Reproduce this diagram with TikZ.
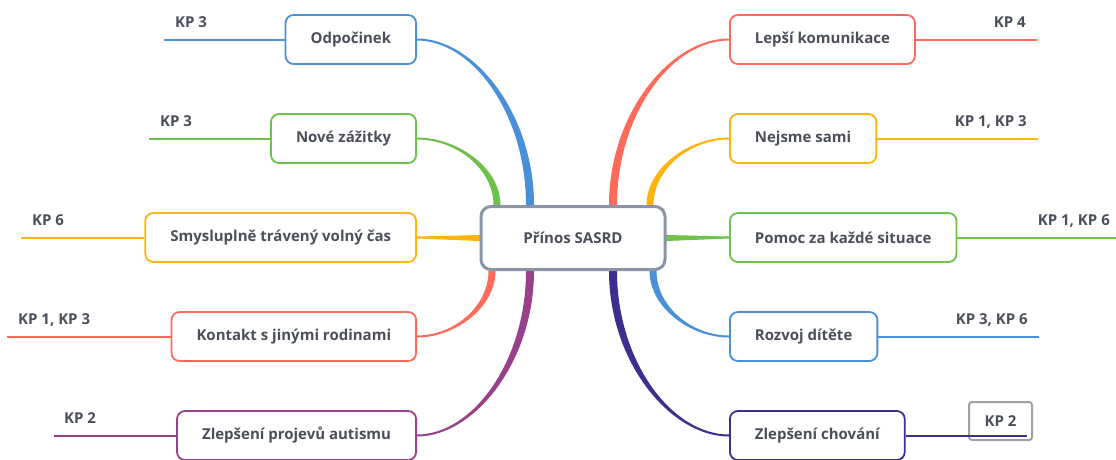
\documentclass[tikz,border=0pt]{standalone}
\usepackage{fontspec}
\setmainfont{Open Sans}
\usetikzlibrary{calc,backgrounds}

\definecolor{cblue}{RGB}{74,144,217}
\definecolor{cgreen}{RGB}{108,194,74}
\definecolor{corange}{RGB}{255,179,15}
\definecolor{ccoral}{RGB}{255,107,91}
\definecolor{cpurple}{RGB}{152,65,138}
\definecolor{cindigo}{RGB}{63,46,143}
\definecolor{chub}{RGB}{138,148,166}
\definecolor{cbox}{RGB}{160,160,160}
\definecolor{ctext}{RGB}{74,79,90}

\tikzset{
  hub/.style={draw=chub, fill=white, line width=3pt, rounded corners=10pt,
    minimum width=184pt, minimum height=63pt,
    font=\bfseries\fontsize{15}{17}\selectfont, text=ctext},
  idea/.style={draw=#1, fill=white, line width=1.8pt, rounded corners=8pt,
    minimum height=49pt, inner xsep=25pt,
    font=\bfseries\fontsize{15}{17}\selectfont, text=ctext},
  kp/.style={inner sep=0pt, font=\bfseries\fontsize{15}{17}\selectfont, text=ctext},
  tail/.style={draw=#1, line width=2pt},
}

% zuzena vetev od stredu k uzlu: barva, kotva, posun, cil, polosirka
\newcommand{\branch}[5]{%
  \filldraw[#1, line width=2pt, line join=round]
    let \p1=([xshift=#3pt]#2), \p2=(#4) in
    (\x1-#5pt,\y1) .. controls (\x1-#5pt,{\y1+0.55*(\y2-\y1)}) and ({0.5*\x1+0.5*\x2},\y2) .. (\x2,\y2)
    .. controls ({0.5*\x1+0.5*\x2},\y2) and (\x1+#5pt,{\y1+0.55*(\y2-\y1)}) .. (\x1+#5pt,\y1) -- cycle;}

\begin{document}
\begin{tikzpicture}[x=1pt, y=-1pt]
  % rozmery obrazku
  \useasboundingbox (0,0) rectangle (1116,459);

  % stredni uzel
  \node[hub] (hub) at (573,238) {Přínos SASRD};

  % leve uzly
  \node[idea=cblue, anchor=east] (odpocinek) at (417,39.5) {Odpočinek};
  \node[idea=cgreen, anchor=east] (zazitky) at (417,138.5) {Nové zážitky};
  \node[idea=corange, anchor=east] (volnycas) at (417,237.5) {Smysluplně trávený volný čas};
  \node[idea=ccoral, anchor=east] (kontakt) at (417,336.5) {Kontakt s jinými rodinami};
  \node[idea=cpurple, anchor=east] (projevy) at (417,435.5) {Zlepšení projevů autismu};

  % prave uzly
  \node[idea=ccoral, anchor=west] (komunikace) at (729,39.5) {Lepší komunikace};
  \node[idea=corange, anchor=west] (sami) at (729,138.5) {Nejsme sami};
  \node[idea=cgreen, anchor=west] (pomoc) at (729,237.5) {Pomoc za každé situace};
  \node[idea=cblue, anchor=west] (rozvoj) at (729,336.5) {Rozvoj dítěte};
  \node[idea=cindigo, anchor=west] (chovani) at (729,435.5) {Zlepšení chování};

  % konce car
  \coordinate (odpocinek-end) at (164,39.5);
  \coordinate (zazitky-end) at (149,138.5);
  \coordinate (volnycas-end) at (21,237.5);
  \coordinate (kontakt-end) at (7,336.5);
  \coordinate (projevy-end) at (54,435.5);
  \coordinate (komunikace-end) at (1037,39.5);
  \coordinate (sami-end) at (1038,138.5);
  \coordinate (pomoc-end) at (1116,237.5);
  \coordinate (rozvoj-end) at (1039,336.5);
  \coordinate (chovani-end) at (1027,435.5);

  % popisky KP
  \node[kp, anchor=base west] (kp-odpocinek) at ([shift={(11,-12)}]odpocinek-end) {KP 3};
  \node[kp, anchor=base west] (kp-zazitky) at ([shift={(11,-12)}]zazitky-end) {KP 3};
  \node[kp, anchor=base west] (kp-volnycas) at ([shift={(11,-12)}]volnycas-end) {KP 6};
  \node[kp, anchor=base west] (kp-kontakt) at ([shift={(11,-12)}]kontakt-end) {KP 1, KP 3};
  \node[kp, anchor=base west] (kp-projevy) at ([shift={(10,-12)}]projevy-end) {KP 2};
  \node[kp, anchor=base east] (kp-komunikace) at ([shift={(-11,-12)}]komunikace-end) {KP 4};
  \node[kp, anchor=base east] (kp-sami) at ([shift={(-11,-12)}]sami-end) {KP 1, KP 3};
  \node[kp, anchor=base east] (kp-pomoc) at ([shift={(-6,-12)}]pomoc-end) {KP 1, KP 6};
  \node[kp, anchor=base east] (kp-rozvoj) at ([shift={(-11,-12)}]rozvoj-end) {KP 3, KP 6};
  \node[kp, draw=cbox, line width=2pt, rounded corners=3pt, minimum width=63pt,
    minimum height=38pt] (kp-chovani) at ([shift={(-26.5,-14.5)}]chovani-end) {KP 2};

  % cary k popiskum
  \foreach \n/\c in {odpocinek/cblue, zazitky/cgreen, volnycas/corange, kontakt/ccoral,
                     projevy/cpurple} {
    \draw[tail=\c] (\n.west) -- (\n-end);
  }
  \foreach \n/\c in {komunikace/ccoral, sami/corange, pomoc/cgreen, rozvoj/cblue,
                     chovani/cindigo} {
    \draw[tail=\c] (\n.east) -- (\n-end);
  }

  % vetve ke stredu
  \begin{pgfonlayer}{background}
    \branch{cblue}{hub.north}{-43}{odpocinek.east}{3}
    \branch{cgreen}{hub.north}{-76}{zazitky.east}{2.5}
    \branch{cpurple}{hub.south}{-43}{projevy.east}{3}
    \branch{ccoral}{hub.south}{-81}{kontakt.east}{2.5}
    \branch{ccoral}{hub.north}{40}{komunikace.west}{3}
    \branch{corange}{hub.north}{77}{sami.west}{2.5}
    \branch{cindigo}{hub.south}{40}{chovani.west}{3}
    \branch{cblue}{hub.south}{80}{rozvoj.west}{2.5}
    \filldraw[corange, line width=2pt, line join=round]
      ([yshift=2]hub.west) -- (volnycas.east) -- ([yshift=-2]hub.west) -- cycle;
    \filldraw[cgreen, line width=2pt, line join=round]
      ([yshift=2]hub.east) -- (pomoc.west) -- ([yshift=-2]hub.east) -- cycle;
  \end{pgfonlayer}
\end{tikzpicture}
\end{document}
